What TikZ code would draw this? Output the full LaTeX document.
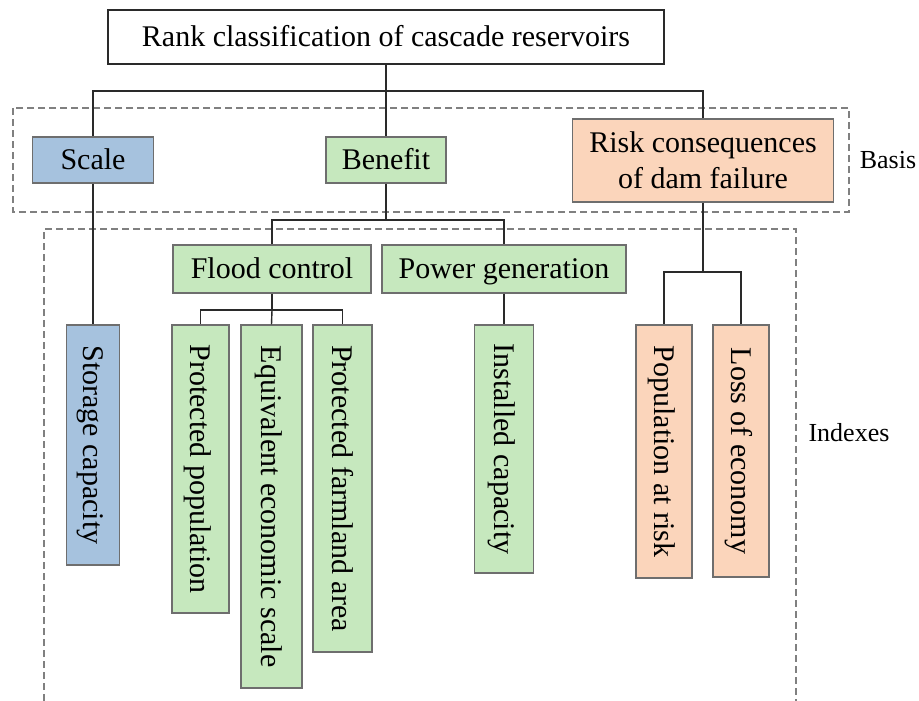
\documentclass[tikz,border=0pt]{standalone}
\usepackage{fontspec}
\setmainfont{Liberation Serif}
\usepackage{graphicx}
\definecolor{cblue}{HTML}{A6C2DE}
\definecolor{cgreen}{HTML}{C6E8BE}
\definecolor{cpeach}{HTML}{FBD5BB}
\definecolor{cborder}{HTML}{6E6E6E}
\definecolor{cline}{HTML}{2A2A2A}
\definecolor{cdash}{HTML}{808080}
\newcommand{\mystrut}{\rule[-8pt]{0pt}{35.8pt}}
\newcommand{\vtext}[1]{\rotatebox{-90}{\mystrut #1}}
\begin{document}
\begin{tikzpicture}[x=1pt,y=-1pt,
  box/.style={draw=cborder,line width=1.2pt,rectangle,inner sep=0pt,
    font=\fontsize{30}{36}\selectfont,align=center},
  bluebox/.style={box,fill=cblue},
  greenbox/.style={box,fill=cgreen},
  peachbox/.style={box,fill=cpeach},
  conn/.style={draw=cline,line width=1.4pt},
  group/.style={draw=cdash,line width=1.3pt,dash pattern=on 7pt off 4pt},
  grouplabel/.style={font=\fontsize{26}{30}\selectfont}]
\useasboundingbox (0,0) rectangle (919,701);
% dashed groups
\draw[group] (13,108) rectangle (849,212);
\draw[group] (44,701) -- (44,229) -- (796,229) -- (796,701);
\node[grouplabel] (basis) at (888,160) {Basis};
\node[grouplabel] (indexes) at (849,433) {Indexes};
% nodes
\node[box,draw=cline,fill=white,minimum width=556,minimum height=54] (top) at (386,37) {\mystrut Rank classification of cascade reservoirs};
\node[bluebox,minimum width=121,minimum height=46] (scale) at (93,160) {\mystrut Scale};
\node[greenbox,minimum width=120,minimum height=46] (benefit) at (386,160) {\mystrut Benefit};
\node[peachbox,minimum width=261,minimum height=83] (risk) at (703,160.5) {\mystrut Risk consequences\\\mystrut of dam failure};
\node[greenbox,minimum width=198,minimum height=48] (flood) at (272,269) {\mystrut Flood control};
\node[greenbox,minimum width=244,minimum height=48] (power) at (504,269) {\mystrut Power generation};
\node[bluebox,minimum width=53,minimum height=240] (storage) at (93,445) {\vtext{Storage capacity}};
\node[greenbox,minimum width=57,minimum height=288] (protpop) at (200.5,469) {\vtext{Protected population}};
\node[greenbox,minimum width=61,minimum height=363] (equiv) at (271.5,506.5) {\vtext{Equivalent economic scale}};
\node[greenbox,minimum width=59,minimum height=327] (farm) at (342.5,488.5) {\vtext{Protected farmland area}};
\node[greenbox,minimum width=59,minimum height=248] (installed) at (504,449) {\vtext{Installed capacity}};
\node[peachbox,minimum width=56,minimum height=253] (poprisk) at (664,451.5) {\vtext{Population at risk}};
\node[peachbox,minimum width=56,minimum height=252] (loss) at (741,451) {\vtext{Loss of economy}};
% bus coordinates
\coordinate (b1) at (386,91);
\coordinate (b2) at (386,220);
\coordinate (b3) at (272,310);
\coordinate (b4) at (703,272);
% connectors
\draw[conn] (top.south) -- (b1);
\draw[conn] (b1) -- (benefit.north);
\draw[conn] (scale.north) |- (b1);
\draw[conn] (risk.north) |- (b1);
\draw[conn] (scale.south) -- (storage.north);
\draw[conn] (benefit.south) -- (b2);
\draw[conn] (flood.north) |- (b2);
\draw[conn] (power.north) |- (b2);
\draw[conn] (power.south) -- (installed.north);
\draw[conn] (flood.south) -- (b3);
\draw[conn] (b3) -- (equiv.north);
\draw[conn] (protpop.north) |- (b3);
\draw[conn] (farm.north) |- (b3);
\draw[conn] (risk.south) -- (b4);
\draw[conn] (poprisk.north) |- (b4);
\draw[conn] (loss.north) |- (b4);
\end{tikzpicture}
\end{document}
